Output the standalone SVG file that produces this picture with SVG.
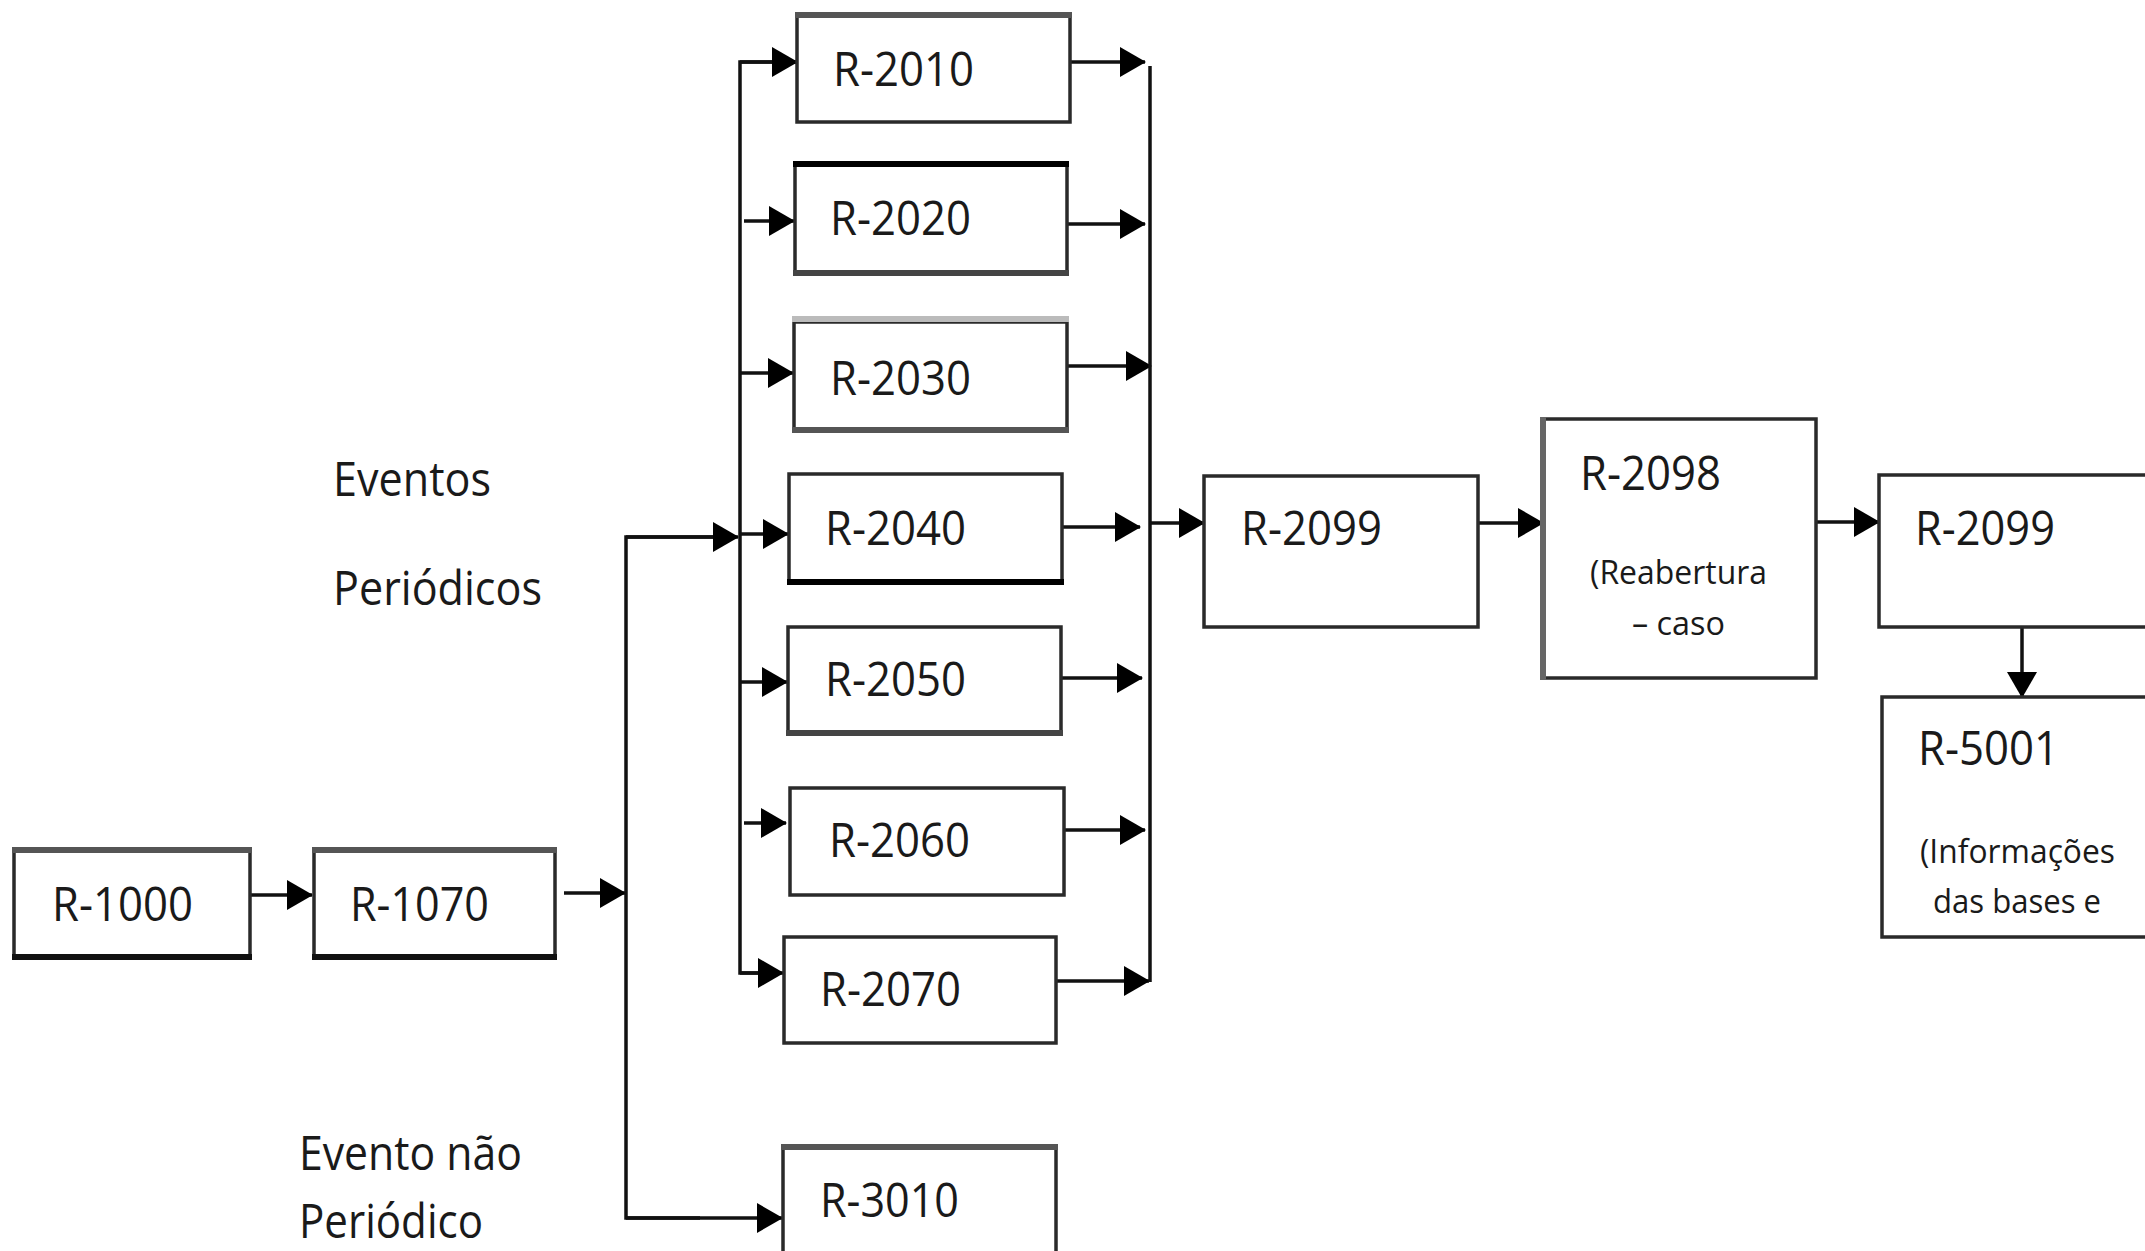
<svg xmlns="http://www.w3.org/2000/svg" width="2145" height="1251" viewBox="0 0 2145 1251">
<style>
  .box{fill:#fff;stroke:#2a2a2a;stroke-width:3.5}
  .edge{stroke-width:6;fill:none}
  .lbl{font-family:"Open Sans","Noto Sans","Liberation Sans",sans-serif;font-size:47px;fill:#1a1a1a}
  .sub{font-family:"Open Sans","Noto Sans","Liberation Sans",sans-serif;font-size:33px;fill:#1a1a1a}
  .con{stroke:#111;stroke-width:3.5;fill:none}
  .arr{stroke:#111;stroke-width:3.5;fill:none;marker-end:url(#ah)}
</style>
<defs>
  <marker id="ah" viewBox="0 0 26 30" refX="25" refY="15" markerWidth="26" markerHeight="30" markerUnits="userSpaceOnUse" orient="auto">
    <path d="M0,0 L26,15 L0,30 Z" fill="#000"/>
  </marker>
</defs>
<rect width="2145" height="1251" fill="#fff"/>

<g id="connectors">
  <line class="arr" x1="250" y1="895" x2="312" y2="895"/>
  <line class="arr" x1="564" y1="893" x2="625" y2="893"/>
  <polyline class="con" points="736,537 626,537 626,1218 700,1218"/>
  <line class="arr" x1="626" y1="537" x2="738" y2="537"/>
  <line class="arr" x1="626" y1="1218" x2="782" y2="1218"/>
  <polyline class="con" points="797,62 740,62 740,973 760,973"/>
  <line class="arr" x1="740" y1="62" x2="797" y2="62"/>
  <line class="arr" x1="744" y1="221" x2="794" y2="221"/>
  <line class="arr" x1="740" y1="373" x2="793" y2="373"/>
  <line class="arr" x1="740" y1="534" x2="788" y2="534"/>
  <line class="arr" x1="740" y1="682" x2="787" y2="682"/>
  <line class="arr" x1="744" y1="823" x2="786" y2="823"/>
  <line class="arr" x1="740" y1="973" x2="783" y2="973"/>
  <line class="arr" x1="1070" y1="62" x2="1145" y2="62"/>
  <line class="arr" x1="1067" y1="224" x2="1145" y2="224"/>
  <line class="arr" x1="1067" y1="366" x2="1151" y2="366"/>
  <line class="arr" x1="1062" y1="527" x2="1140" y2="527"/>
  <line class="arr" x1="1058" y1="678" x2="1142" y2="678"/>
  <line class="arr" x1="1064" y1="830" x2="1145" y2="830"/>
  <line class="arr" x1="1056" y1="981" x2="1149" y2="981"/>
  <line class="con" x1="1150" y1="66" x2="1150" y2="982"/>
  <line class="arr" x1="1150" y1="523" x2="1204" y2="523"/>
  <line class="arr" x1="1478" y1="523" x2="1543" y2="523"/>
  <line class="arr" x1="1816" y1="522" x2="1879" y2="522"/>
  <line class="arr" x1="2022" y1="627" x2="2022" y2="697"/>
</g>

<g id="n-r1000">
  <rect class="box" x="14" y="850" width="236" height="107"/>
  <line class="edge" stroke="#555" x1="12" y1="850" x2="252" y2="850"/>
  <line class="edge" stroke="#111" x1="12" y1="957" x2="252" y2="957"/>
  <text class="lbl" x="52" y="921" textLength="141" lengthAdjust="spacingAndGlyphs">R-1000</text>
</g>
<g id="n-r1070">
  <rect class="box" x="314" y="850" width="241" height="107"/>
  <line class="edge" stroke="#555" x1="312" y1="850" x2="557" y2="850"/>
  <line class="edge" stroke="#111" x1="312" y1="957" x2="557" y2="957"/>
  <text class="lbl" x="350" y="921" textLength="139" lengthAdjust="spacingAndGlyphs">R-1070</text>
</g>
<g id="n-r2010">
  <rect class="box" x="797" y="15" width="273" height="107"/>
  <line class="edge" stroke="#555" x1="795" y1="15" x2="1072" y2="15"/>
  <text class="lbl" x="833" y="86" textLength="141" lengthAdjust="spacingAndGlyphs">R-2010</text>
</g>
<g id="n-r2020">
  <rect class="box" x="795" y="164" width="272" height="109"/>
  <line class="edge" stroke="#000" x1="793" y1="164" x2="1069" y2="164"/>
  <line class="edge" stroke="#444" x1="793" y1="273" x2="1069" y2="273"/>
  <text class="lbl" x="830" y="235" textLength="141" lengthAdjust="spacingAndGlyphs">R-2020</text>
</g>
<g id="n-r2030">
  <rect class="box" x="794" y="322" width="273" height="108"/>
  <line class="edge" stroke="#bbb" x1="792" y1="319" x2="1069" y2="319"/>
  <line class="edge" stroke="#555" x1="792" y1="430" x2="1069" y2="430"/>
  <text class="lbl" x="830" y="395" textLength="141" lengthAdjust="spacingAndGlyphs">R-2030</text>
</g>
<g id="n-r2040">
  <rect class="box" x="789" y="474" width="273" height="108"/>
  <line class="edge" stroke="#000" x1="787" y1="582" x2="1064" y2="582"/>
  <text class="lbl" x="825" y="545" textLength="141" lengthAdjust="spacingAndGlyphs">R-2040</text>
</g>
<g id="n-r2050">
  <rect class="box" x="788" y="627" width="273" height="106"/>
  <line class="edge" stroke="#444" x1="786" y1="733" x2="1063" y2="733"/>
  <text class="lbl" x="825" y="696" textLength="141" lengthAdjust="spacingAndGlyphs">R-2050</text>
</g>
<g id="n-r2060">
  <rect class="box" x="790" y="788" width="274" height="107"/>
  <text class="lbl" x="829" y="857" textLength="141" lengthAdjust="spacingAndGlyphs">R-2060</text>
</g>
<g id="n-r2070">
  <rect class="box" x="784" y="937" width="272" height="106"/>
  <text class="lbl" x="820" y="1006" textLength="141" lengthAdjust="spacingAndGlyphs">R-2070</text>
</g>
<g id="n-r3010">
  <rect class="box" x="783" y="1147" width="273" height="120"/>
  <line class="edge" stroke="#555" x1="781" y1="1147" x2="1058" y2="1147"/>
  <text class="lbl" x="820" y="1217" textLength="139" lengthAdjust="spacingAndGlyphs">R-3010</text>
</g>
<g id="n-r2099a">
  <rect class="box" x="1204" y="476" width="274" height="151"/>
  <text class="lbl" x="1241" y="545" textLength="141" lengthAdjust="spacingAndGlyphs">R-2099</text>
</g>
<g id="n-r2098">
  <rect class="box" x="1543" y="419" width="273" height="259"/>
  <line class="edge" stroke="#666" x1="1543" y1="417" x2="1543" y2="680"/>
  <text class="lbl" x="1580" y="490" textLength="141" lengthAdjust="spacingAndGlyphs">R-2098</text>
  <text class="sub" x="1590" y="584" textLength="177" lengthAdjust="spacingAndGlyphs">(Reabertura</text>
  <text class="sub" x="1632" y="635" textLength="93" lengthAdjust="spacingAndGlyphs">– caso</text>
</g>
<g id="n-r2099b">
  <rect class="box" x="1879" y="475" width="300" height="152"/>
  <text class="lbl" x="1915" y="545" textLength="140" lengthAdjust="spacingAndGlyphs">R-2099</text>
</g>
<g id="n-r5001">
  <rect class="box" x="1882" y="697" width="300" height="240"/>
  <text class="lbl" x="1918" y="765" textLength="141" lengthAdjust="spacingAndGlyphs">R-5001</text>
  <text class="sub" x="1920" y="863" textLength="195" lengthAdjust="spacingAndGlyphs">(Informações</text>
  <text class="sub" x="1933" y="913" textLength="168" lengthAdjust="spacingAndGlyphs">das bases e</text>
</g>

<g id="labels">
  <text class="lbl" x="333" y="496" textLength="158" lengthAdjust="spacingAndGlyphs">Eventos</text>
  <text class="lbl" x="333" y="605" textLength="209" lengthAdjust="spacingAndGlyphs">Periódicos</text>
  <text class="lbl" x="299" y="1170" textLength="223" lengthAdjust="spacingAndGlyphs">Evento não</text>
  <text class="lbl" x="299" y="1238" textLength="184" lengthAdjust="spacingAndGlyphs">Periódico</text>
</g>
</svg>
